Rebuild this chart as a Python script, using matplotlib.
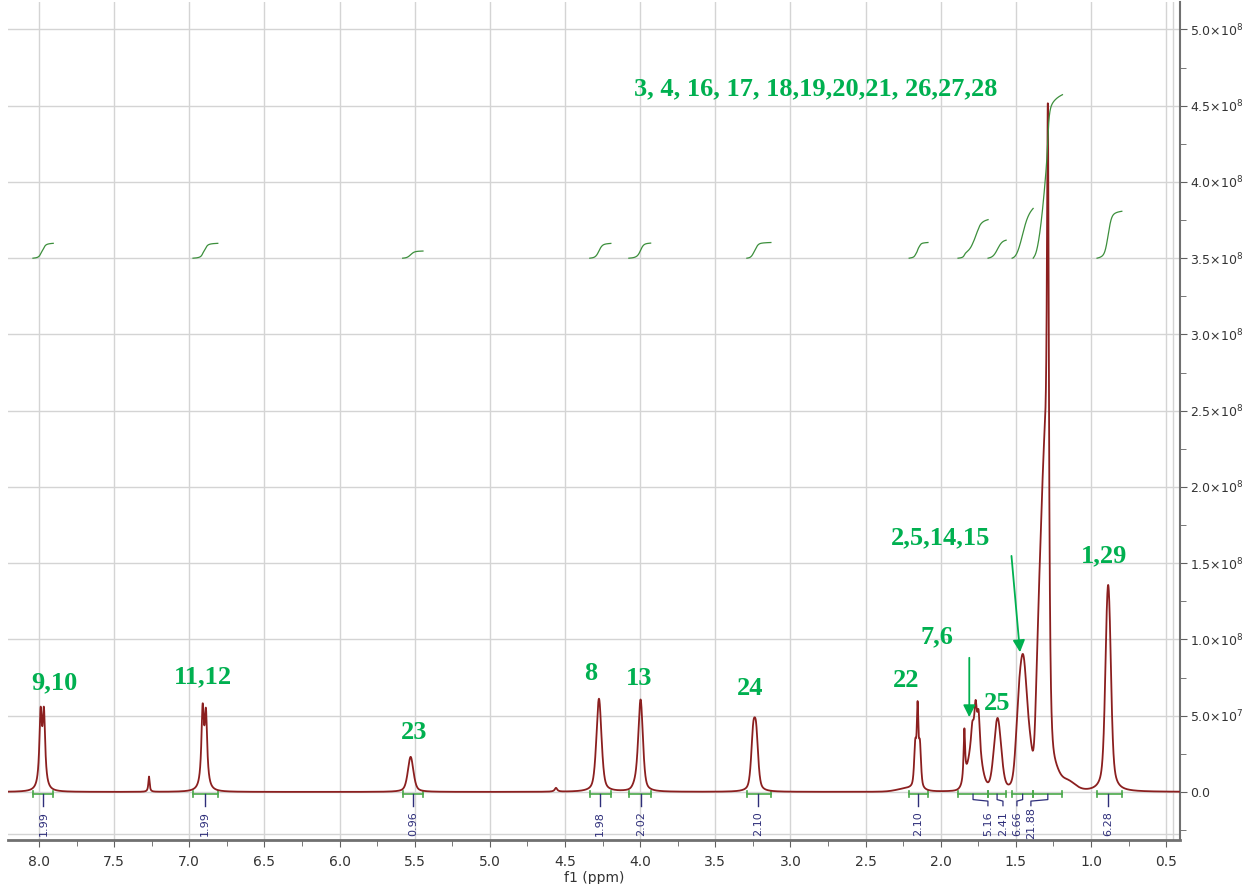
import numpy as np
import matplotlib
matplotlib.use("Agg")
import matplotlib.pyplot as plt
from matplotlib.ticker import FixedLocator, FuncFormatter, MultipleLocator

# Peak list: position (ppm), height, half width (ppm),
# Lorentzian fraction of the line shape (1 = Lorentzian, 0 = Gaussian)
peak_ppm = [7.989, 7.967, 7.268, 6.911, 6.889, 5.527, 4.560, 4.274, 4.030, 3.997,
            3.248, 3.228, 2.220, 2.169, 2.154, 2.139,
            1.843, 1.775, 1.790, 1.768, 1.748, 1.622,
            1.485, 1.451, 1.400, 1.360, 1.335, 1.305, 1.287, 1.250, 1.160,
            0.898, 0.886, 0.874]
peak_height = [4.76e7, 4.76e7, 1.0e7, 5.0e7, 4.65e7, 2.3e7, 0.25e7, 6.1e7, 0.3e7, 6.0e7,
               3.3e7, 3.3e7, 0.2e7, 2.8e7, 4.6e7, 2.8e7,
               3.4e7, 3.0e7, 1.2e7, 2.3e7, 2.4e7, 4.7e7,
               2.0e7, 8.6e7, 1.2e7, 0.3e8, 1.2e8, 1.5e8, 3.53e8, 0.10e8, 0.06e8,
               5.0e7, 7.0e7, 5.0e7]
peak_width = [0.010, 0.010, 0.005, 0.010, 0.010, 0.022, 0.010, 0.020, 0.020, 0.018,
              0.016, 0.016, 0.080, 0.009, 0.006, 0.009,
              0.006, 0.045, 0.010, 0.010, 0.010, 0.028,
              0.020, 0.033, 0.020, 0.015, 0.022, 0.020, 0.008, 0.040, 0.060,
              0.016, 0.016, 0.016]
peak_lorentz = [1, 1, 1, 1, 1, 0.5, 1, 0.5, 0, 0.5,
                0.5, 0.5, 0, 0.6, 0.6, 0.6,
                1, 0, 1, 1, 1, 0.2,
                0, 0.3, 0, 0, 0, 0, 1, 0, 0,
                0.6, 0.6, 0.6]

# Integration regions and their values
int_start = [8.04, 6.975, 5.58, 4.335, 4.075, 3.29, 2.21, 1.885, 1.685, 1.525, 1.385, 0.96]
int_end = [7.905, 6.81, 5.445, 4.195, 3.93, 3.13, 2.085, 1.685, 1.565, 1.385, 1.19, 0.795]
int_values = [1.99, 1.99, 0.96, 1.98, 2.02, 2.10, 2.10, 5.16, 2.41, 6.66, 21.88, 6.28]
int_label_ppm = [7.97, 6.895, 5.51, 4.27, 3.995, 3.213, 2.15, 1.686, 1.586, 1.493, 1.40, 0.886]

# Assignment labels (text, ppm, intensity)
assign_text = ["9,10", "11,12", "23", "8", "13", "24", "22", "7,6", "25",
               "2,5,14,15", "1,29", "3, 4, 16, 17, 18,19,20,21, 26,27,28"]
assign_ppm = [7.90, 6.91, 5.507, 4.33, 4.01, 3.266, 2.229, 2.023, 1.624, 2.003, 0.912, 2.834]
assign_y = [7.14e7, 7.54e7, 3.87e7, 7.8e7, 7.47e7, 6.8e7, 7.34e7, 1.016e8, 5.83e7,
            1.665e8, 1.547e8, 4.61e8]

# Build the spectrum from the peak list (pseudo-Voigt lines)
ppm = np.linspace(8.25, 0.35, 40000)
spec = np.zeros_like(ppm)
for c, h, w, eta in zip(peak_ppm, peak_height, peak_width, peak_lorentz):
    d = (ppm - c) / w
    spec += h * (eta / (1 + d**2) + (1 - eta) * np.exp(-np.log(2) * d**2))

plt.rcParams["mathtext.fontset"] = "dejavusans"
fig = plt.figure(figsize=(12.45, 8.84), dpi=100)
ax = fig.add_axes([8 / 1245, 44 / 884, 1172 / 1245, 838 / 884])

ax.plot(ppm, spec, color="#8b1f1f", lw=1.3, zorder=3)

# Integral curves above the spectrum
int_base = 3.5e8
int_scale = 4.9e6
for s, e, v in zip(int_start, int_end, int_values):
    m = (ppm <= s) & (ppm >= e)
    cum = np.cumsum(spec[m])
    cum = cum / cum[-1]
    ax.plot(ppm[m], int_base + cum * v * int_scale, color="#3c8f3c", lw=0.9, zorder=3)

# Integration brackets and values under the baseline
green = "#4aa84a"
navy = "#2e2e7a"
yb = -0.15e7
for s, e, v, lp in zip(int_start, int_end, int_values, int_label_ppm):
    ax.plot([s, e], [yb, yb], color=green, lw=1.2)
    ax.plot([s, s], [yb - 0.2e7, yb + 0.2e7], color=green, lw=1.2)
    ax.plot([e, e], [yb - 0.2e7, yb + 0.2e7], color=green, lw=1.2)
    mid = (s + e) / 2
    if abs(mid - lp) < 0.02:
        ax.plot([lp, lp], [yb, -0.9e7], color=navy, lw=1.0)
    else:
        ax.plot([mid, mid, lp, lp], [yb, -0.5e7, -0.6e7, -0.9e7], color=navy, lw=0.9)
    ax.text(lp, -2.05e7, f"{v:.2f}", rotation=90, color=navy, fontsize=8,
            ha="center", va="center")

# Assignment labels
for t, x, y in zip(assign_text, assign_ppm, assign_y):
    ax.text(x, y, t, color="#00b050", fontsize=19, fontweight="bold",
            family="Liberation Serif", ha="center", va="center", zorder=4)

ax.annotate("", xy=(1.81, 4.72e7), xytext=(1.81, 8.98e7),
            arrowprops=dict(arrowstyle="-|>", color="#00b050", lw=1.3, mutation_scale=18))
ax.annotate("", xy=(1.471, 8.98e7), xytext=(1.531, 1.566e8),
            arrowprops=dict(arrowstyle="-|>", color="#00b050", lw=1.3, mutation_scale=18))

# Axes
ax.set_xlim(8.206, 0.408)
ax.set_ylim(-3.15e7, 5.18e8)
ax.xaxis.set_major_locator(MultipleLocator(0.5))
ax.xaxis.set_minor_locator(MultipleLocator(0.25))
ax.xaxis.set_major_formatter(FuncFormatter(lambda v, p: f"{v:.1f}"))

ax.yaxis.tick_right()
ax.yaxis.set_major_locator(FixedLocator(np.arange(0, 5.01e8, 5e7)))
ax.yaxis.set_minor_locator(FixedLocator(np.arange(-2.5e7, 5.01e8, 2.5e7)))


def yfmt(v, p):
    if abs(v) < 1:
        return "0.0"
    exp = int(np.floor(np.log10(v)))
    return f"{v / 10**exp:.1f}×10$^{{{exp}}}$"


ax.yaxis.set_major_formatter(FuncFormatter(yfmt))
ax.tick_params(axis="both", which="both", colors="#606060", labelcolor="#333333",
               direction="out")
ax.tick_params(axis="both", which="major", length=5)
ax.tick_params(axis="both", which="minor", length=4)
ax.tick_params(axis="x", labelsize=10, pad=6)
ax.tick_params(axis="y", labelsize=9, pad=2)

ax.grid(True, which="major", color="#d4d4d4", lw=1.0)
ax.axhline(-2.75e7, color="#d4d4d4", lw=1.0)
ax.axvline(0.455, color="#d4d4d4", lw=1.0)
for side in ["top", "left"]:
    ax.spines[side].set_visible(False)
ax.spines["bottom"].set_color("#707070")
ax.spines["bottom"].set_linewidth(2)
ax.spines["right"].set_color("#707070")
ax.spines["right"].set_linewidth(1.5)
ax.set_xlabel("f1 (ppm)", fontsize=10, color="#333333", labelpad=1)

fig.savefig("out.png", dpi=100)
